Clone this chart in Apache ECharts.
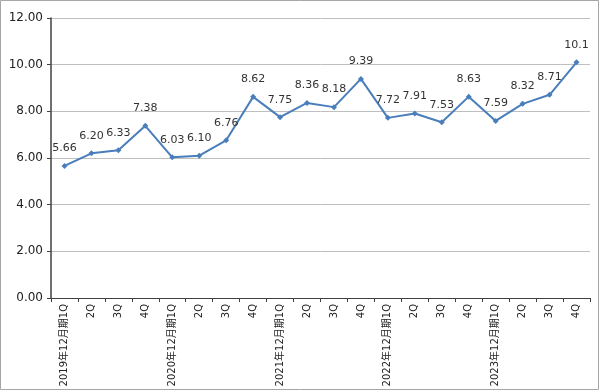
<!DOCTYPE html>
<html><head><meta charset="utf-8">
<script src="https://cdn.jsdelivr.net/npm/echarts@6/dist/echarts.min.js"></script>
<style>html,body{margin:0;padding:0;background:#fff}#c{width:600px;height:391px}</style>
</head><body><div id="c"></div>
<script>
const categories = ["2019年12月期1Q","2Q","3Q","4Q","2020年12月期1Q","2Q","3Q","4Q","2021年12月期1Q","2Q","3Q","4Q","2022年12月期1Q","2Q","3Q","4Q","2023年12月期1Q","2Q","3Q","4Q"];
const values = [5.66,6.20,6.33,7.38,6.03,6.10,6.76,8.62,7.75,8.36,8.18,9.39,7.72,7.91,7.53,8.63,7.59,8.32,8.71,10.1];
const valueLabels = ["5.66","6.20","6.33","7.38","6.03","6.10","6.76","8.62","7.75","8.36","8.18","9.39","7.72","7.91","7.53","8.63","7.59","8.32","8.71","10.1"];
const font = "Verdana, 'DejaVu Sans', 'Noto Sans CJK JP', sans-serif";
const chart = echarts.init(document.getElementById('c'), null, {renderer:'canvas'});
chart.setOption({
  animation:false,
  backgroundColor:'#fff',
  graphic:[{type:'rect',shape:{x:0.5,y:0.5,width:598,height:389},style:{fill:'none',stroke:'#a6a6a6',lineWidth:1},silent:true}],
  grid:{left:51,right:10,top:18,bottom:93,containLabel:false,outerBoundsMode:'none'},
  xAxis:{type:'category',data:categories,boundaryGap:true,
    axisLine:{lineStyle:{color:'#404040',width:1}},
    axisTick:{show:true,interval:0,length:4,lineStyle:{color:'#404040'}},
    axisLabel:{interval:0,rotate:90,fontFamily:font,fontSize:10,color:'#222',margin:6}},
  yAxis:{type:'value',min:0,max:12,interval:2,
    axisLine:{show:true,lineStyle:{color:'#404040',width:1.5}},
    axisTick:{show:true,length:4,inside:false,lineStyle:{color:'#404040'}},
    splitLine:{lineStyle:{color:'#bfbfbf',width:1}},
    axisLabel:{formatter:v=>v.toFixed(2),fontFamily:font,fontSize:12,color:'#222',margin:8}},
  series:[{type:'line',data:values,
    symbol:'diamond',symbolSize:6,
    lineStyle:{color:'#4a7ebb',width:2},
    itemStyle:{color:'#4a7ebb'},
    label:{show:true,position:'top',distance:9,fontFamily:font,fontSize:11,color:'#333',
      formatter:p=>valueLabels[p.dataIndex]}}]
});
</script></body></html>
